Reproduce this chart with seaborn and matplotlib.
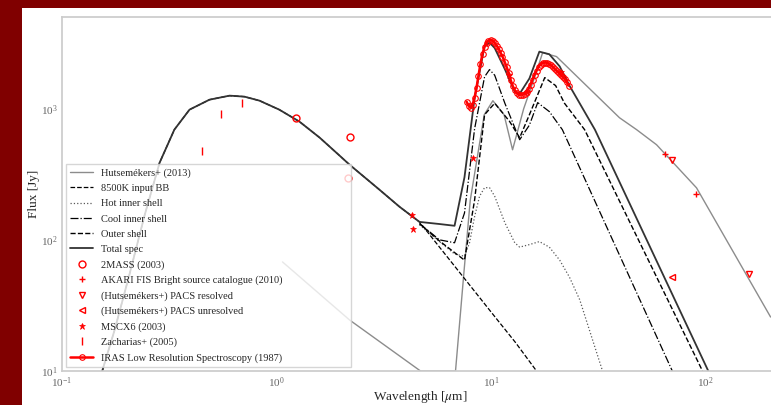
import numpy as np
import pandas as pd
import seaborn as sns
import matplotlib
matplotlib.use("Agg")
import matplotlib.pyplot as plt
from matplotlib.patches import Rectangle

# ---------------- data (wavelength in micron, flux in Jy) ----------------
bb_wave = [0.154, 0.176, 0.206, 0.243, 0.285, 0.334, 0.393, 0.487, 0.604, 0.709,
           0.833, 1.03, 1.28, 1.59, 1.97, 2.19, 3.02, 3.74, 4.64, 5.75, 7.52,
           10.0, 13.0, 16.3]
bb_flux = [10, 20.6, 54, 155, 387, 692, 983, 1171, 1257, 1235,
           1151, 983, 796, 601, 438, 374, 241, 179, 137, 88, 50.7,
           28.2, 16.5, 10]

hot_wave = [4.64, 5.75, 6.76, 7.52, 7.94, 8.38, 8.84, 9.33, 9.84, 10.4, 11.6,
            12.9, 13.6, 15.1, 16.8, 18.7, 20.9, 23.2, 25.9, 33.1]
hot_flux = [130, 97, 78, 75, 95, 150, 215, 250, 250, 215, 135,
            95, 88, 92, 97, 88, 70, 52, 35, 10]

cool_wave = [4.64, 5.75, 6.76, 7.52, 8.38, 9.33, 9.84, 10.4, 11.6, 13.6, 15.1,
             16.5, 18.7, 21.5, 70.0]
cool_flux = [133, 100, 95, 160, 700, 1750, 1986, 1800, 1100, 580, 750,
             1112, 950, 692, 10]

outer_wave = [4.64, 5.75, 7.52, 8.38, 9.33, 10.4, 12.2, 13.6, 15.1, 17.8, 20.0,
              22.0, 27.3, 96.8]
outer_flux = [133, 98, 70, 200, 900, 1100, 800, 601, 900, 1725, 1500,
              1100, 692, 10]

total_wave = [0.154, 0.176, 0.206, 0.243, 0.285, 0.334, 0.393, 0.487, 0.604, 0.709,
              0.833, 1.03, 1.28, 1.59, 1.97, 2.19, 3.02, 3.74, 4.64, 5.75, 6.76,
              7.52, 8.38, 9.33, 9.84, 10.4, 11.6, 12.9, 13.6, 15.1, 16.8, 18.7,
              20.9, 23.2, 30.5, 103]
total_flux = [10, 20.6, 54, 155, 387, 692, 983, 1171, 1257, 1235,
              1151, 983, 796, 601, 438, 374, 241, 179, 137, 132, 128,
              300, 1200, 3000, 3190, 2900, 2000, 1350, 1300, 1700, 2722, 2600,
              2100, 1500, 692, 10]

hutse_wave = [1.066, 2.19, 4.69, 6.83, 7.5, 8.0, 9.3, 10.2, 11.5, 12.6, 14.2,
              15.9, 17.4, 20.2, 39.7, 47.7, 59.1, 90.8, 201]
hutse_flux = [67.9, 24.5, 10, 10, 60, 200, 900, 1150, 900, 486, 1000,
              1700, 2676, 2495, 853, 692, 531, 249, 25.8]

twomass_wave = [1.235, 2.16, 2.19]
twomass_flux = [853, 297, 611]

akari_wave = [65, 90]
akari_flux = [453, 224]

pacs_res_wave = [70, 160]
pacs_res_flux = [408, 55]

pacs_unres_wave = [70]
pacs_unres_flux = [52]

msx_wave = [4.29, 4.35, 8.28, 12.13, 14.65, 21.3]
msx_flux = [155, 121, 423, 1800, 1350, 1900]

zach_wave = [0.447, 0.554, 0.694]
zach_flux = [478, 916, 1112]

lrs_wave = [7.69, 7.86, 8.03, 8.20, 8.38, 8.56, 8.74, 8.93, 9.13, 9.33, 9.53,
            9.73, 9.95, 10.16, 10.38, 10.61, 10.84, 11.07, 11.31, 11.56, 11.81,
            12.07, 12.33, 12.60, 12.87, 13.15, 13.44, 13.73, 14.03, 14.33, 14.64,
            14.96, 15.28, 15.62, 15.95, 16.30, 16.65, 17.02, 17.38, 17.76, 18.15,
            18.54, 18.94, 19.35, 19.77, 20.20, 20.64, 21.09, 21.54, 22.01, 22.49,
            22.98]
lrs_flux = [1131, 1054, 1018, 1073, 1213, 1447, 1786, 2205, 2629, 2974, 3190,
            3305, 3363, 3305, 3190, 3027, 2871, 2677, 2495, 2285, 2092,
            1883, 1665, 1498, 1396, 1325, 1279, 1279, 1279, 1302, 1349,
            1421, 1525, 1665, 1818, 1950, 2092, 2167, 2245, 2245, 2245,
            2205, 2167, 2092, 2020, 1950, 1883, 1818, 1755, 1694, 1607,
            1498]

# ---------------- style ----------------
sns.set_style("white")
plt.rcParams["font.family"] = ["Liberation Serif", "DejaVu Serif"]
plt.rcParams["mathtext.fontset"] = "stix"

W, H = 771, 405
fig = plt.figure(figsize=(W / 100, H / 100), dpi=100, facecolor="#800000")
fig.patches.append(Rectangle((22 / W, 0), 1, (H - 8) / H, transform=fig.transFigure,
                             facecolor="white", edgecolor="none", zorder=-10))

x_left, x_right = 62, 779
y_top, y_bot = 17, 371
ax = fig.add_axes([x_left / W, (H - y_bot) / H, (x_right - x_left) / W, (y_bot - y_top) / H])
ax.set_zorder(1)
ax.set_facecolor("white")

def curve(xv, yv, **kw):
    df = pd.DataFrame({"x": xv, "y": yv})
    sns.lineplot(data=df, x="x", y="y", ax=ax, estimator=None, sort=False, **kw)

curve(hutse_wave, hutse_flux, color="0.55", lw=1.0, label="Hutsemékers+ (2013)")
curve(bb_wave, bb_flux, color="black", lw=0.9, linestyle="--", dashes=(3, 1.5),
      label="8500K input BB")
curve(hot_wave, hot_flux, color="0.35", lw=0.9, linestyle=":", label="Hot inner shell")
curve(cool_wave, cool_flux, color="black", lw=0.9, linestyle="-.", label="Cool inner shell")
curve(outer_wave, outer_flux, color="black", lw=1.0, linestyle="--", dashes=(5, 5),
      label="Outer shell")
curve(total_wave, total_flux, color="0.2", lw=1.3, label="Total spec")

red = "red"
curve(twomass_wave, twomass_flux, color=red, linestyle="", marker="o", mfc="none",
      mec=red, ms=5, mew=1.0, label="2MASS (2003)")
curve(akari_wave, akari_flux, color=red, linestyle="", marker="+", mec=red, ms=5,
      mew=1.0, label="AKARI FIS Bright source catalogue (2010)")
curve(pacs_res_wave, pacs_res_flux, color=red, linestyle="", marker="v", mfc="none",
      mec=red, ms=5, mew=1.0, label="(Hutsemékers+) PACS resolved")
curve(pacs_unres_wave, pacs_unres_flux, color=red, linestyle="", marker="<", mfc="none",
      mec=red, ms=5, mew=1.0, label="(Hutsemékers+) PACS unresolved")
curve(msx_wave, msx_flux, color=red, linestyle="", marker="*", mec=red, mfc=red,
      ms=5, mew=0.5, label="MSCX6 (2003)")
curve(zach_wave, zach_flux, color=red, linestyle="", marker="|", mec=red, ms=6,
      mew=1.0, label="Zacharias+ (2005)")
curve(lrs_wave, lrs_flux, color=red, lw=1.8, marker="o", mfc="none", mec=red,
      ms=4, mew=0.8, label="IRAS Low Resolution Spectroscopy (1987)")

ax.set_xscale("log")
ax.set_yscale("log")
ax.set_xlim(0.1, 220)
ax.set_ylim(10, 5000)
ax.minorticks_off()
ax.tick_params(axis="both", labelsize=8, labelcolor="0.4", length=0, pad=3)

ax.set_xlabel(r"Wavelength [$\mu$m]", fontsize=9.5)
ax.set_ylabel("Flux [Jy]", fontsize=9.5)
ax_w = x_right - x_left
ax_h = y_bot - y_top
ax.xaxis.set_label_coords((420 - x_left) / ax_w, -(389 - y_bot) / ax_h)
ax.yaxis.set_label_coords(-(62 - 40) / ax_w, 0.5)

for s in ax.spines.values():
    s.set_color("0.8")
    s.set_linewidth(1.25)

leg = ax.legend(loc="lower left", mode="expand",
                bbox_to_anchor=((66 - x_left) / ax_w, (y_bot - 367) / ax_h,
                                (351 - 66) / ax_w, 0.5),
                borderaxespad=0, fontsize=7.5, labelspacing=0.57,
                handlelength=2.2, frameon=True, fancybox=False)
leg.get_frame().set_edgecolor("0.8")

fig.savefig("out.png", dpi=100, facecolor=fig.get_facecolor())
